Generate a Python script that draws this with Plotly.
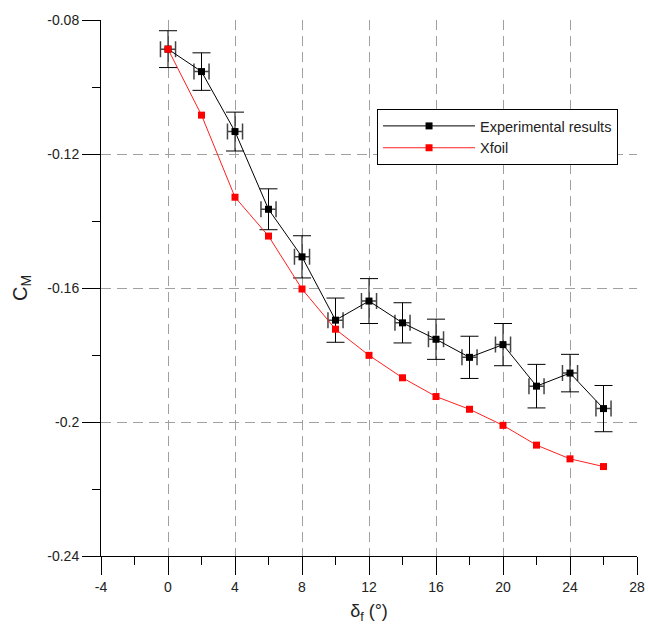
import plotly.graph_objects as go

# Data
flap_deg = [0, 2, 4, 6, 8, 10, 12, 14, 16, 18, 20, 22, 24, 26]
cm_exp = [-0.0887, -0.0954, -0.1133, -0.1365, -0.1507, -0.1696, -0.1639, -0.1704,
          -0.1753, -0.1807, -0.1769, -0.1893, -0.1854, -0.1960]
cm_exp_err = [0.0055, 0.0056, 0.0058, 0.0061, 0.0063, 0.0066, 0.0067, 0.0060,
              0.0060, 0.0063, 0.0063, 0.0065, 0.0056, 0.0069]
flap_err = 0.45
cm_xfoil = [-0.0887, -0.1084, -0.1329, -0.1445, -0.1603, -0.1723, -0.1801, -0.1868,
            -0.1924, -0.1962, -0.2010, -0.2069, -0.2110, -0.2133]

x_ticks = [-4, 0, 4, 8, 12, 16, 20, 24, 28]
x_ticktext = ["-4", "0", "4", "8", "12", "16", "20", "24", "28"]
y_ticks = [-0.24, -0.20, -0.16, -0.12, -0.08]
y_ticktext = ["-0.24", "-0.2", "-0.16", "-0.12", "-0.08"]

font = "Liberation Sans, Arial, sans-serif"

fig = go.Figure()
fig.add_trace(go.Scatter(
    x=flap_deg, y=cm_exp, mode="lines+markers", name="Experimental results",
    line=dict(color="black", width=1),
    marker=dict(symbol="square", size=7, color="black"),
    error_y=dict(type="data", array=cm_exp_err, visible=True, color="black",
                 thickness=1, width=9),
    error_x=dict(type="constant", value=flap_err, visible=True, color="#444444",
                 thickness=1.5, width=8),
))
fig.add_trace(go.Scatter(
    x=flap_deg, y=cm_xfoil, mode="lines+markers", name="Xfoil",
    line=dict(color="#ff2020", width=1),
    marker=dict(symbol="square", size=7, color="red"),
))

fig.update_layout(
    width=648, height=626,
    margin=dict(l=101, r=11, t=20, b=70),
    paper_bgcolor="white", plot_bgcolor="white",
    font=dict(family=font, size=13, color="#222222"),
    legend=dict(x=0.515, y=0.834, xanchor="left", yanchor="top",
                bordercolor="black", borderwidth=1, bgcolor="white",
                font=dict(size=14.5, color="#222222"),
                tracegroupgap=0, itemwidth=92),
)
fig.update_xaxes(
    range=[-4, 28], tickvals=x_ticks, ticktext=x_ticktext, automargin=False,
    showline=True, linecolor="black", linewidth=1,
    ticks="outside", ticklen=18, tickcolor="black", tickwidth=1,
    minor=dict(ticks="outside", ticklen=8, dtick=2, tick0=0, tickcolor="black", showgrid=False),
    showgrid=True, gridcolor="#a0a0a0", gridwidth=1, griddash="10px,6px",
    zeroline=False, tickfont=dict(size=14, color="#222222"),
    title=dict(text="δ<sub>f</sub> (°)", font=dict(size=18, color="#222222"), standoff=10),
)
fig.update_yaxes(
    range=[-0.24, -0.08], tickvals=y_ticks, ticktext=y_ticktext, automargin=False,
    showline=True, linecolor="black", linewidth=1,
    ticks="outside", ticklen=18, tickcolor="black", tickwidth=1,
    minor=dict(ticks="outside", ticklen=8, dtick=0.02, tick0=-0.24, tickcolor="black", showgrid=False),
    showgrid=True, gridcolor="#a0a0a0", gridwidth=1, griddash="10px,6px",
    zeroline=False, tickfont=dict(size=14, color="#222222"),
    title=dict(text="C<sub>M</sub>", font=dict(size=20, color="#222222"), standoff=14),
)

fig.write_html("out.html")
